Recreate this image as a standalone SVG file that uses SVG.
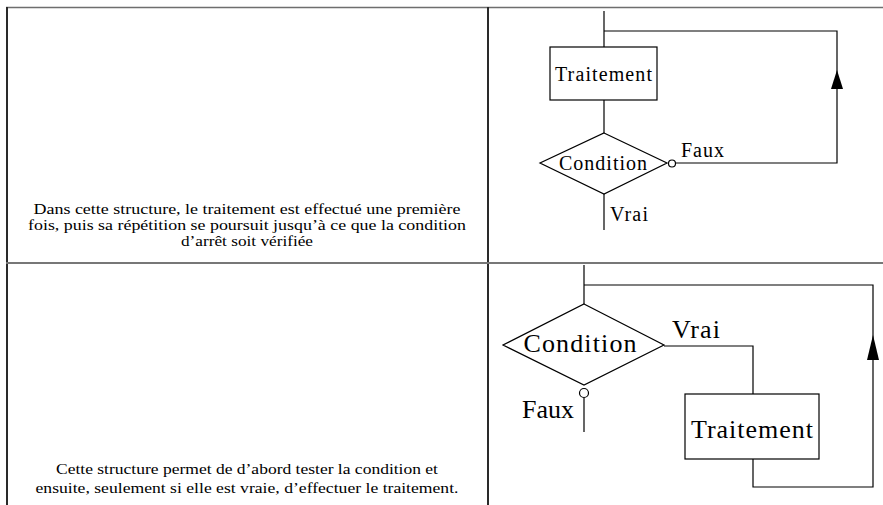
<svg xmlns="http://www.w3.org/2000/svg" width="883" height="505" viewBox="0 0 883 505">
  <style>
    .cell { stroke: #6e6e6e; stroke-width: 1.5; fill: none; }
    .edge { stroke: #2a2a2a; stroke-width: 2; fill: none; }
    .wire { stroke: #000; stroke-width: 1.2; fill: none; }
    .shape { stroke: #000; stroke-width: 1.2; fill: #fff; }
    text { font-family: 'Liberation Serif', 'DejaVu Serif', serif; fill: #000; }
    .para { font-size: 15px; text-anchor: middle; }
    .s1 { font-size: 20px; }
    .s2 { font-size: 26px; }
  </style>

  <!-- table grid -->
  <g id="table">
    <line class="cell" x1="6" y1="7.5" x2="883" y2="7.5"/>
    <line class="edge" x1="7" y1="7" x2="7" y2="505"/>
    <line class="edge" x1="488" y1="7" x2="488" y2="505"/>
    <line class="cell" x1="6" y1="263" x2="883" y2="263" style="stroke-width:2;stroke:#777"/>
  </g>

  <!-- descriptions -->
  <g id="text-repeat">
    <text class="para" x="247" y="214" textLength="427" lengthAdjust="spacingAndGlyphs">Dans cette structure, le traitement est effectué une première</text>
    <text class="para" x="247" y="230" textLength="438" lengthAdjust="spacingAndGlyphs">fois, puis sa répétition se poursuit jusqu’à ce que la condition</text>
    <text class="para" x="247" y="246" textLength="132" lengthAdjust="spacingAndGlyphs">d’arrêt soit vérifiée</text>
  </g>
  <g id="text-while">
    <text class="para" x="247" y="474" textLength="382" lengthAdjust="spacingAndGlyphs">Cette structure permet de d’abord tester la condition et</text>
    <text class="para" x="247" y="493" textLength="423" lengthAdjust="spacingAndGlyphs">ensuite, seulement si elle est vraie, d’effectuer le traitement.</text>
  </g>

  <!-- repeat ... until -->
  <g id="connectors-1">
    <polyline class="wire" points="604,11 604,47"/>
    <polyline class="wire" points="604,31 837,31 837,163 676,163"/>
    <path d="M837 70 L843 89 L831 89 Z" fill="#000"/>
    <line class="wire" x1="604" y1="100" x2="604" y2="133"/>
    <line class="wire" x1="604" y1="194" x2="604" y2="230"/>
  </g>
  <g id="traitement-1">
    <rect class="shape" x="550" y="47" width="107" height="53"/>
    <text class="s1" x="603.5" y="81" text-anchor="middle" textLength="97" lengthAdjust="spacing">Traitement</text>
  </g>
  <g id="condition-1">
    <polygon class="shape" points="604,133 667,163 604,194 540,163"/>
    <text class="s1" x="603" y="170" text-anchor="middle" textLength="88" lengthAdjust="spacing">Condition</text>
    <circle class="shape" cx="672" cy="163.5" r="3.5"/>
    <text class="s1" x="681" y="157" textLength="43" lengthAdjust="spacing">Faux</text>
    <text class="s1" x="610" y="221" textLength="38" lengthAdjust="spacing">Vrai</text>
  </g>

  <!-- while ... do -->
  <g id="connectors-2">
    <line class="wire" x1="584" y1="265" x2="584" y2="304"/>
    <polyline class="wire" points="584,285 873,285 873,487 753,487 753,459"/>
    <path d="M873 335 L879 360 L867 360 Z" fill="#000"/>
    <polyline class="wire" points="664,346 753,346 753,394"/>
    <line class="wire" x1="584" y1="398" x2="584" y2="432"/>
  </g>
  <g id="condition-2">
    <polygon class="shape" points="584,304 664,345 584,385 503,345"/>
    <text class="s2" x="580" y="352" text-anchor="middle" textLength="113" lengthAdjust="spacing">Condition</text>
    <circle class="shape" cx="584" cy="393" r="4.5"/>
    <text class="s2" x="522" y="418" textLength="52" lengthAdjust="spacing">Faux</text>
    <text class="s2" x="672" y="338" textLength="48" lengthAdjust="spacing">Vrai</text>
  </g>
  <g id="traitement-2">
    <rect class="shape" x="685" y="394" width="134" height="65"/>
    <text class="s2" x="752" y="438" text-anchor="middle" textLength="122" lengthAdjust="spacing">Traitement</text>
  </g>
</svg>
